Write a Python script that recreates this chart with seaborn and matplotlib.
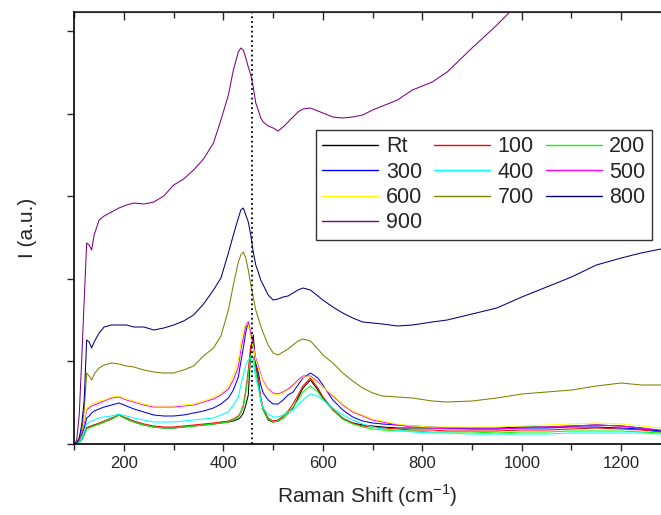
import numpy as np
import pandas as pd
import matplotlib
matplotlib.use("Agg")
import matplotlib.pyplot as plt
from matplotlib.ticker import MultipleLocator
import seaborn as sns

# Raman shift grid (cm-1) shared by all spectra
shift = [100, 105, 110, 115, 120, 125, 130, 135, 140, 150, 160, 175, 190, 205, 220, 240, 260,
         280, 300, 320, 340, 360, 380, 395, 410, 420, 430, 435, 440, 445, 450, 455, 460, 465,
         470, 475, 480, 490, 500, 510, 520, 530, 540, 550, 560, 575, 590, 600, 620, 640, 660,
         680, 700, 720, 750, 780, 820, 850, 900, 950, 1000, 1050, 1100, 1150, 1200, 1240, 1280]

# intensities (a.u.)
rt = [0, 0, 2, 5, 10, 16, 17, 18, 19, 20, 22, 25, 29, 25, 22, 19, 17, 16, 16, 17, 18, 19, 20,
      21, 22, 23, 25, 27, 31, 39, 49, 94, 109, 79, 64, 44, 34, 24, 22, 23, 26, 31, 36, 46, 56,
      64, 54, 46, 34, 25, 21, 19, 18, 17, 16, 16, 16, 16, 16, 16, 17, 17, 18, 19, 18, 16, 13]
t100 = [0, 0, 2, 5, 10, 16, 17, 18, 19, 21, 23, 26, 29, 26, 23, 20, 18, 17, 17, 18, 19, 20, 21,
        22, 23, 25, 28, 32, 39, 54, 74, 99, 99, 79, 66, 47, 36, 26, 23, 24, 28, 33, 40, 49, 58,
        66, 56, 47, 35, 26, 21, 18, 17, 16, 15, 14, 14, 13, 13, 13, 14, 14, 15, 16, 15, 14, 12]
t200 = [0, 0, 1, 4, 9, 15, 16, 17, 18, 20, 22, 25, 29, 25, 22, 19, 17, 16, 16, 17, 18, 19, 20,
        21, 22, 24, 27, 31, 37, 51, 69, 89, 87, 72, 59, 44, 34, 25, 22, 23, 26, 31, 37, 44, 52,
        58, 52, 45, 34, 25, 20, 17, 15, 14, 13, 13, 12, 12, 12, 11, 12, 12, 13, 13, 13, 12, 11]
t300 = [0, 1, 4, 9, 16, 26, 28, 31, 33, 35, 37, 39, 41, 38, 35, 32, 29, 28, 28, 29, 31, 33, 36,
        40, 46, 54, 67, 82, 96, 112, 122, 108, 99, 82, 72, 59, 51, 44, 40, 40, 44, 49, 52, 59, 66,
        71, 66, 59, 44, 34, 27, 23, 21, 20, 19, 18, 17, 16, 15, 15, 16, 16, 17, 17, 16, 15, 13]
t400 = [0, 0, 2, 6, 12, 20, 22, 23, 24, 26, 27, 28, 30, 28, 26, 24, 22, 22, 22, 23, 24, 25, 26,
        29, 32, 39, 47, 59, 69, 79, 84, 87, 82, 66, 56, 44, 36, 30, 27, 27, 29, 32, 34, 39, 44,
        50, 48, 44, 36, 29, 24, 20, 17, 15, 14, 12, 11, 11, 10, 10, 10, 10, 11, 11, 11, 11, 10]
t500 = [0, 1, 4, 11, 21, 34, 36, 38, 39, 41, 43, 46, 47, 44, 42, 39, 37, 37, 37, 38, 39, 42, 45,
        49, 55, 64, 77, 94, 106, 118, 122, 111, 99, 86, 78, 70, 63, 55, 51, 50, 52, 55, 59, 64, 68,
        68, 62, 57, 48, 39, 32, 28, 24, 22, 19, 17, 16, 15, 15, 15, 16, 17, 18, 19, 18, 16, 14]
t600 = [0, 2, 6, 14, 24, 36, 38, 40, 41, 43, 44, 47, 48, 45, 43, 40, 38, 38, 38, 39, 40, 43, 47,
        51, 58, 69, 84, 101, 114, 121, 119, 106, 97, 84, 76, 69, 62, 54, 50, 49, 51, 54, 57, 62, 67,
        67, 61, 57, 49, 40, 33, 29, 25, 23, 20, 18, 17, 17, 17, 17, 18, 19, 20, 21, 20, 18, 16]
t700 = [0, 1, 4, 14, 34, 71, 68, 64, 70, 76, 79, 81, 80, 78, 77, 74, 72, 71, 71, 74, 78, 88, 96,
        108, 134, 159, 182, 189, 192, 186, 174, 159, 147, 134, 126, 118, 111, 99, 91, 89, 92, 95, 99,
        103, 105, 103, 95, 89, 81, 71, 63, 56, 51, 48, 47, 46, 43, 42, 43, 46, 50, 52, 54, 58, 61, 59, 59]
t800 = [0, 1, 6, 19, 44, 104, 102, 96, 102, 111, 117, 119, 119, 119, 117, 117, 114, 116, 119, 123,
        129, 140, 154, 166, 191, 209, 226, 234, 236, 229, 222, 209, 192, 179, 172, 164, 159, 149, 144,
        145, 147, 148, 151, 154, 156, 154, 148, 144, 137, 131, 126, 122, 121, 120, 118, 119, 122, 124,
        130, 136, 147, 157, 167, 179, 186, 191, 195]
t900 = [0, 4, 29, 84, 144, 201, 199, 194, 209, 224, 228, 232, 236, 239, 241, 240, 242, 248, 259,
        265, 274, 285, 301, 324, 349, 374, 392, 396, 394, 386, 377, 369, 357, 341, 334, 326, 322, 318,
        316, 313, 317, 322, 327, 332, 335, 336, 333, 331, 327, 326, 327, 329, 334, 338, 344, 354, 362,
        372, 396, 419, 444, 469, 494, 519, 539, 554, 569]

samples = ["Rt", "100", "200", "300", "400", "500", "600", "700", "800", "900"]
colors = ["#000000", "#FF0000", "#00FF00", "#0000FF", "#00FFFF",
          "#FF00FF", "#FFFF00", "#808000", "#000080", "#800080"]
series = [rt, t100, t200, t300, t400, t500, t600, t700, t800, t900]

df = pd.concat([pd.DataFrame({"shift": shift, "intensity": s, "sample": name})
                for name, s in zip(samples, series)], ignore_index=True)

sns.set_style("ticks")
plt.rcParams["font.family"] = ["Liberation Sans", "DejaVu Sans"]
plt.rcParams["mathtext.fontset"] = "custom"
plt.rcParams["mathtext.rm"] = "Liberation Sans"

fig = plt.figure(figsize=(6.61, 5.15), dpi=100)
ax = fig.add_axes([74.25 / 661, 71 / 515, 586.75 / 661, 432 / 515])

sns.lineplot(data=df, x="shift", y="intensity", hue="sample", hue_order=samples,
             palette=dict(zip(samples, colors)), estimator=None, sort=False,
             lw=0.75, ax=ax)

ax.axvline(457, color="black", ls=":", lw=1.3)

ax.set_xlim(100, 1280)
ax.set_ylim(0, 432)
ax.xaxis.set_major_locator(MultipleLocator(200))
ax.xaxis.set_minor_locator(MultipleLocator(100))
ax.set_yticks(np.arange(0, 432, 82.6))
ax.set_yticklabels([])
ax.tick_params(axis="x", which="major", direction="out", length=5, width=1, labelsize=12, pad=4)
ax.tick_params(axis="x", which="minor", direction="out", length=4, width=1)
ax.tick_params(axis="y", direction="out", length=5, width=1)

top = ax.secondary_xaxis("top")
top.xaxis.set_major_locator(MultipleLocator(200))
top.xaxis.set_minor_locator(MultipleLocator(100))
top.tick_params(which="major", direction="in", length=6, width=1, labeltop=False)
top.tick_params(which="minor", direction="in", length=4, width=1)
top.spines["top"].set_linewidth(1.2)

ax.spines["right"].set_visible(False)
for sp in ["left", "bottom"]:
    ax.spines[sp].set_linewidth(1.2)
    ax.spines[sp].set_color("black")

ax.set_xlabel(r"Raman Shift (cm$^{\mathrm{-1}}$)", fontsize=15, labelpad=8)
ax.set_ylabel("I (a.u.)", fontsize=15, labelpad=18)

handles, labels = ax.get_legend_handles_labels()
lookup = dict(zip(labels, handles))
order = ["Rt", "300", "600", "900", "100", "400", "700", "200", "500", "800"]
leg = ax.legend([lookup[k] for k in order], order, ncol=3, loc="upper left",
                bbox_to_anchor=(316 / 661, 1 - 130 / 515), bbox_transform=fig.transFigure,
                fontsize=15.5, frameon=True, fancybox=False, edgecolor="black",
                handlelength=2.6, handletextpad=0.35, columnspacing=0.55,
                labelspacing=0.2, borderpad=0.3, borderaxespad=0)
leg.get_frame().set_linewidth(1.0)
for line in leg.get_lines():
    line.set_linewidth(1.0)

fig.savefig("out.png", dpi=100)
